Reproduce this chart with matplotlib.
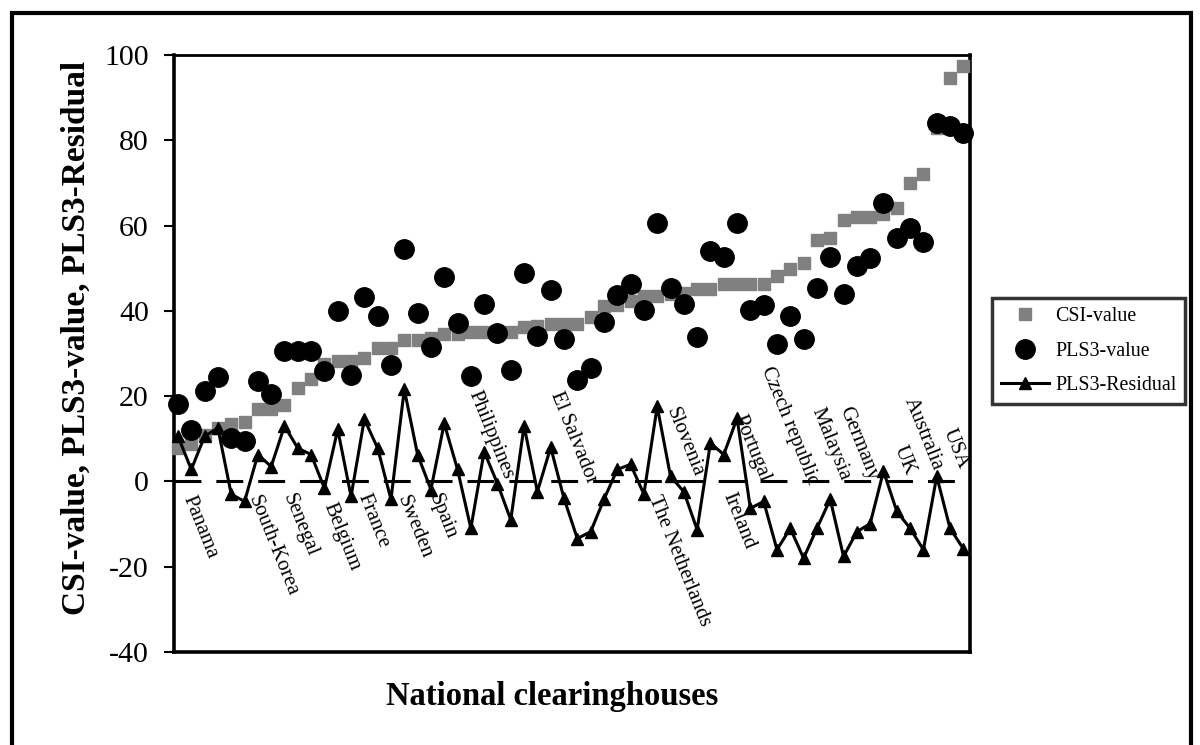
import numpy as np
import matplotlib
matplotlib.use("Agg")
import matplotlib.pyplot as plt
from matplotlib.patches import Rectangle

plt.rcParams['font.family'] = ['Liberation Serif', 'DejaVu Serif']
plt.rcParams['axes.unicode_minus'] = False

# CSI-waarden (oplopend gesorteerd), PLS3-voorspelling en residu per clearinghouse
csi = [7.8, 8.7, 11.0, 12.5, 13.4, 14.0, 17.0, 17.0, 18.0, 22.0,
       24.0, 27.5, 28.2, 28.2, 29.0, 31.3, 31.3, 33.2, 33.2, 33.6,
       34.6, 34.6, 35.0, 35.0, 35.0, 35.1, 36.2, 36.5, 37.0, 37.0,
       37.0, 38.6, 41.2, 41.3, 42.4, 43.5, 43.5, 44.0, 44.2, 45.2,
       45.2, 46.4, 46.4, 46.4, 46.4, 48.2, 49.9, 51.3, 56.5, 57.2,
       61.4, 62.1, 62.1, 62.8, 64.2, 70.1, 72.2, 82.8, 94.6, 97.4]
pls3 = [18.1, 12.0, 21.2, 24.5, 10.2, 9.4, 23.5, 20.5, 30.6, 30.6,
        30.6, 25.9, 40.0, 25.0, 43.3, 38.8, 27.3, 54.6, 39.4, 31.6,
        48.0, 37.2, 24.8, 41.6, 34.8, 26.2, 48.8, 34.0, 45.0, 33.4,
        23.8, 26.5, 37.5, 43.7, 46.2, 40.3, 60.7, 45.3, 41.5, 33.9,
        54.0, 52.6, 60.7, 40.2, 41.4, 32.2, 38.8, 33.4, 45.4, 52.6,
        44.0, 50.6, 52.5, 65.2, 57.0, 59.4, 56.1, 84.0, 83.4, 81.6]
resid = [10.6, 2.8, 10.6, 12.5, -3.0, -4.7, 6.3, 3.5, 13.0, 7.8,
         6.3, -1.6, 12.2, -3.5, 14.6, 7.8, -4.2, 21.6, 6.3, -1.9,
         13.6, 2.8, -11.0, 7.0, -0.5, -9.0, 13.0, -2.4, 8.0, -4.0,
         -13.4, -11.8, -4.2, 2.8, 4.0, -3.0, 17.6, 1.2, -2.4, -11.3,
         9.0, 6.3, 14.8, -6.3, -4.7, -16.0, -11.0, -18.0, -11.0, -4.2,
         -17.6, -11.8, -9.9, 2.4, -7.0, -11.0, -16.0, 1.2, -11.0, -15.8]

# landnamen onder de nullijn (tekst begint bij het punt)
below_names = ['Panama', 'South-Korea', 'Senegal', 'Belgium', 'France',
               'Sweden', 'Spain', 'The Netherlands', 'Ireland']
below_x = [0.7, 5.6, 8.2, 11.3, 13.9, 16.8, 19.2, 35.7, 41.3]
below_y = [-3.5, -3.5, -3.1, -5.2, -3.1, -3.5, -3.1, -3.5, -2.8]
# landnamen boven de nullijn (tekst eindigt bij het punt)
above_names = ['Philippines', 'El Salvador', 'Slovenia', 'Portugal',
               'Czech republic', 'Malaysia', 'Germany', 'UK', 'Australia', 'USA']
above_x = [24.8, 31.1, 39.1, 44.1, 47.7, 50.1, 52.2, 55.0, 57.1, 59.0]
above_y = [0.7, -0.5, 1.2, 0.0, -0.7, 0.5, 0.5, 1.6, 2.8, 3.1]

x = np.arange(len(csi))

fig = plt.figure(figsize=(12, 7.45), dpi=100)
ax = fig.add_axes([174/1200, 1 - 652/745, (970 - 174)/1200, (652 - 55)/745])

# nullijn, gestreept
ax.axhline(0, color='black', lw=2.2, linestyle=(0, (8.8, 4.9)), zorder=1)

ax.plot(x, csi, linestyle='none', marker='s', markersize=8, color='#808080',
        markeredgecolor='#808080', label='CSI-value', zorder=3, clip_on=False)
ax.plot(x, pls3, linestyle='none', marker='o', markersize=14, color='black',
        label='PLS3-value', zorder=4, clip_on=False)
ax.plot(x, resid, color='black', lw=2.2, marker='^', markersize=9,
        label='PLS3-Residual', zorder=5, clip_on=False)

for name, px, py in zip(below_names, below_x, below_y):
    ax.text(px, py, name, rotation=-68, rotation_mode='anchor',
            ha='left', va='center', fontsize=15, zorder=6)
for name, px, py in zip(above_names, above_x, above_y):
    ax.text(px, py, name, rotation=-68, rotation_mode='anchor',
            ha='right', va='center', fontsize=15, zorder=6)

ax.set_xlim(-0.3, 59.5)
ax.set_ylim(-40, 100)
ax.set_yticks([-40, -20, 0, 20, 40, 60, 80, 100])
ax.set_xticks([])
ax.tick_params(axis='y', direction='out', length=7, width=1.5,
               labelsize=21.5, pad=11)
for side in ['left', 'bottom', 'right']:
    ax.spines[side].set_linewidth(2.6)
ax.spines['top'].set_linewidth(2.0)

fig.text(76/1200, 1 - 338/745, 'CSI-value, PLS3-value, PLS3-Residual',
         rotation=90, ha='center', va='center', fontsize=24, fontweight='bold')
fig.text(552/1200, 1 - 697/745, 'National clearinghouses',
         ha='center', va='center', fontsize=23.5, fontweight='bold')

leg = ax.legend(loc='upper left', bbox_to_anchor=(992/1200, 1 - 298/745),
                bbox_transform=fig.transFigure, fontsize=14.4, frameon=True,
                fancybox=False, borderaxespad=0, labelspacing=0.78,
                handlelength=2.4, handletextpad=0.3, borderpad=0.45)
leg.get_frame().set_edgecolor('black')
leg.get_frame().set_linewidth(2.5)

# kader rond de hele figuur
fig.patches.append(Rectangle((12/1200, -0.02), (1191 - 12)/1200, 1.02 - 13/745,
                             transform=fig.transFigure, fill=False,
                             edgecolor='black', lw=3))

fig.savefig('out.png', dpi=100)
